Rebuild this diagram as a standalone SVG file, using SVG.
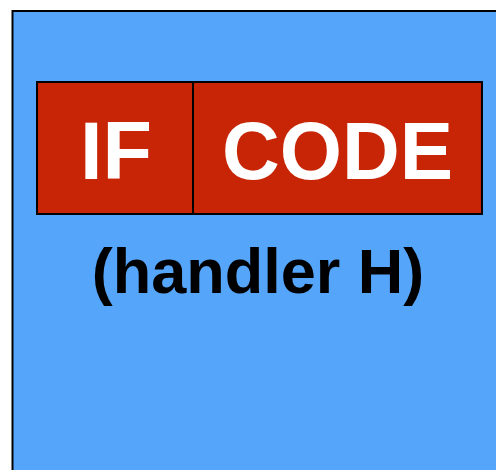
<svg xmlns="http://www.w3.org/2000/svg" width="496" height="470" viewBox="0 0 496 470">
<style>
.box{stroke:#000;stroke-width:2}
.t{font-family:"Liberation Sans",Arial,sans-serif;font-weight:bold;text-anchor:middle}
</style>
<rect width="496" height="470" fill="#fff"/>
<g id="handler">
<rect class="box" x="12.5" y="11" width="500" height="480" fill="#55A5FA"/>
<text class="t" x="258" y="293" font-size="63" fill="#000">(handler H)</text>
</g>
<g id="if">
<rect class="box" x="37" y="82" width="156" height="132" fill="#C72505"/>
<text class="t" x="116" y="179" font-size="81" fill="#fff">IF</text>
</g>
<g id="code">
<rect class="box" x="193" y="82" width="289" height="132" fill="#C72505"/>
<text class="t" x="337.5" y="179" font-size="81" fill="#fff" textLength="231" lengthAdjust="spacingAndGlyphs">CODE</text>
</g>
<g id="connectors"/>
</svg>
